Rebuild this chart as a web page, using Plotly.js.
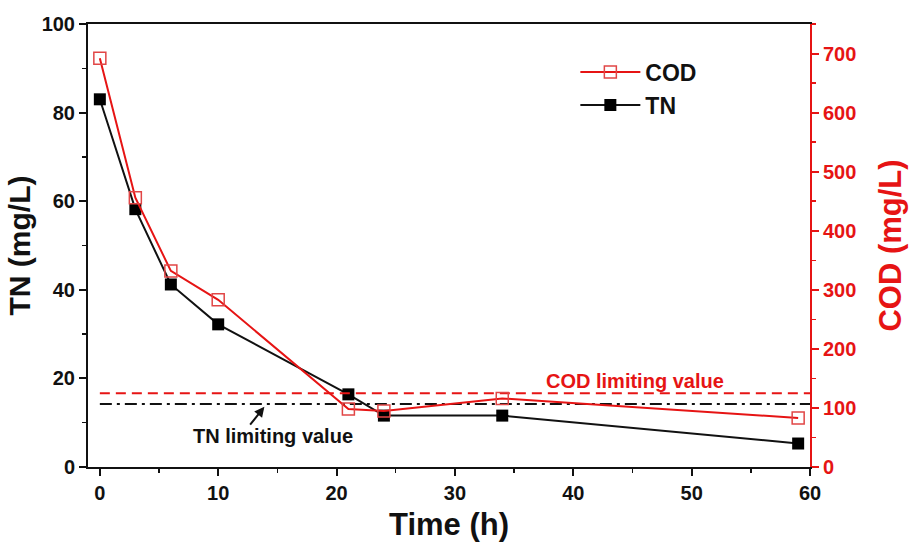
<!DOCTYPE html>
<html>
<head>
<meta charset="utf-8">
<script src="https://cdn.plot.ly/plotly-3.0.1.min.js"></script>
<style>html,body{margin:0;padding:0;background:#fff;}#chart{width:916px;height:555px;}</style>
</head>
<body>
<div id="chart"></div>
<script>
const timeH = [0, 3, 6, 10, 21, 24, 34, 59];
const tnValues = [83, 58.2, 41.2, 32.2, 16.4, 11.6, 11.6, 5.3];
const codValues = [692, 456, 332, 283, 98, 95, 116, 83];
const tnLimit = 14.2;
const codLimit = 125;
const limitSpan = [0, 60];

const RED = 'rgb(230,20,20)';
const FONT = 'Liberation Sans, Arial, sans-serif';

const traces = [
  {
    x: limitSpan, y: [codLimit, codLimit], yaxis: 'y2', mode: 'lines',
    line: {color: RED, width: 2, dash: '10px,6px'}, showlegend: false, hoverinfo: 'skip'
  },
  {
    x: limitSpan, y: [tnLimit, tnLimit], mode: 'lines',
    line: {color: '#111', width: 2, dash: '12px,5px,3px,5px'}, showlegend: false, hoverinfo: 'skip'
  },
  {
    name: 'COD', x: timeH, y: codValues, yaxis: 'y2', mode: 'lines+markers',
    line: {color: RED, width: 2},
    marker: {symbol: 'square-open', size: 12, color: 'rgb(225,70,70)', line: {width: 1.5}}
  },
  {
    name: 'TN', x: timeH, y: tnValues, mode: 'lines+markers',
    line: {color: '#111', width: 2},
    marker: {symbol: 'square', size: 12, color: '#000'}
  }
];

const layout = {
  width: 916, height: 555,
  margin: {l: 88, r: 106, t: 24, b: 88},
  paper_bgcolor: '#fff', plot_bgcolor: '#fff',
  font: {family: FONT, size: 16, color: '#111'},
  showlegend: true,
  legend: {
    x: 0.675, y: 0.94, xanchor: 'left', yanchor: 'top',
    bgcolor: 'rgba(0,0,0,0)', itemwidth: 60, tracegroupgap: 0,
    font: {family: FONT, size: 23, color: '#111', weight: 'bold'}
  },
  xaxis: {
    range: [-1, 60], tickvals: [0, 10, 20, 30, 40, 50, 60],
    ticks: 'outside', ticklen: 7, tickwidth: 2, tickcolor: '#111',
    showline: true, linecolor: '#111', linewidth: 2, mirror: true,
    showgrid: false, zeroline: false,
    tickfont: {family: FONT, size: 20, weight: 'bold', color: '#111'},
    minor: {dtick: 5, tick0: 0, ticks: 'outside', ticklen: 4, tickwidth: 1.5, tickcolor: '#111', showgrid: false},
    title: {text: 'Time (h)', font: {family: FONT, size: 31, weight: 'bold', color: '#111'}, standoff: 10}
  },
  yaxis: {
    range: [0, 100], tickvals: [0, 20, 40, 60, 80, 100],
    ticks: 'outside', ticklen: 7, tickwidth: 2, tickcolor: '#111',
    showline: true, linecolor: '#111', linewidth: 2,
    showgrid: false, zeroline: false,
    tickfont: {family: FONT, size: 20, weight: 'bold', color: '#111'},
    minor: {dtick: 10, tick0: 0, ticks: 'outside', ticklen: 4, tickwidth: 1.5, tickcolor: '#111', showgrid: false},
    title: {text: 'TN (mg/L)', font: {family: FONT, size: 30, weight: 'bold', color: '#111'}, standoff: 2}
  },
  yaxis2: {
    overlaying: 'y', side: 'right', range: [0, 750],
    tickvals: [0, 100, 200, 300, 400, 500, 600, 700],
    ticks: 'outside', ticklen: 7, tickwidth: 2, tickcolor: RED,
    showline: true, linecolor: RED, linewidth: 2,
    showgrid: false, zeroline: false,
    tickfont: {family: FONT, size: 20, weight: 'bold', color: RED},
    minor: {dtick: 50, tick0: 0, ticks: 'outside', ticklen: 4, tickwidth: 1.5, tickcolor: RED, showgrid: false},
    title: {text: 'COD (mg/L)', font: {family: FONT, size: 31, weight: 'bold', color: RED}, standoff: 24}
  },
  annotations: [
    {
      x: 45.2, y: 19.4, xref: 'x', yref: 'y', text: 'COD limiting value', showarrow: false,
      font: {family: FONT, size: 20, weight: 'bold', color: RED}
    },
    {
      x: 14.6, y: 6.9, xref: 'x', yref: 'y', text: 'TN limiting value', showarrow: false,
      font: {family: FONT, size: 20, weight: 'bold', color: '#111'}
    },
    {
      x: 13.9, y: 13.6, xref: 'x', yref: 'y', ax: 12.6, ay: 9.2, axref: 'x', ayref: 'y',
      text: '', showarrow: true, arrowhead: 2, arrowsize: 1, arrowwidth: 2, arrowcolor: '#111'
    }
  ]
};

Plotly.newPlot('chart', traces, layout, {displayModeBar: false, staticPlot: true});
</script>
</body>
</html>
